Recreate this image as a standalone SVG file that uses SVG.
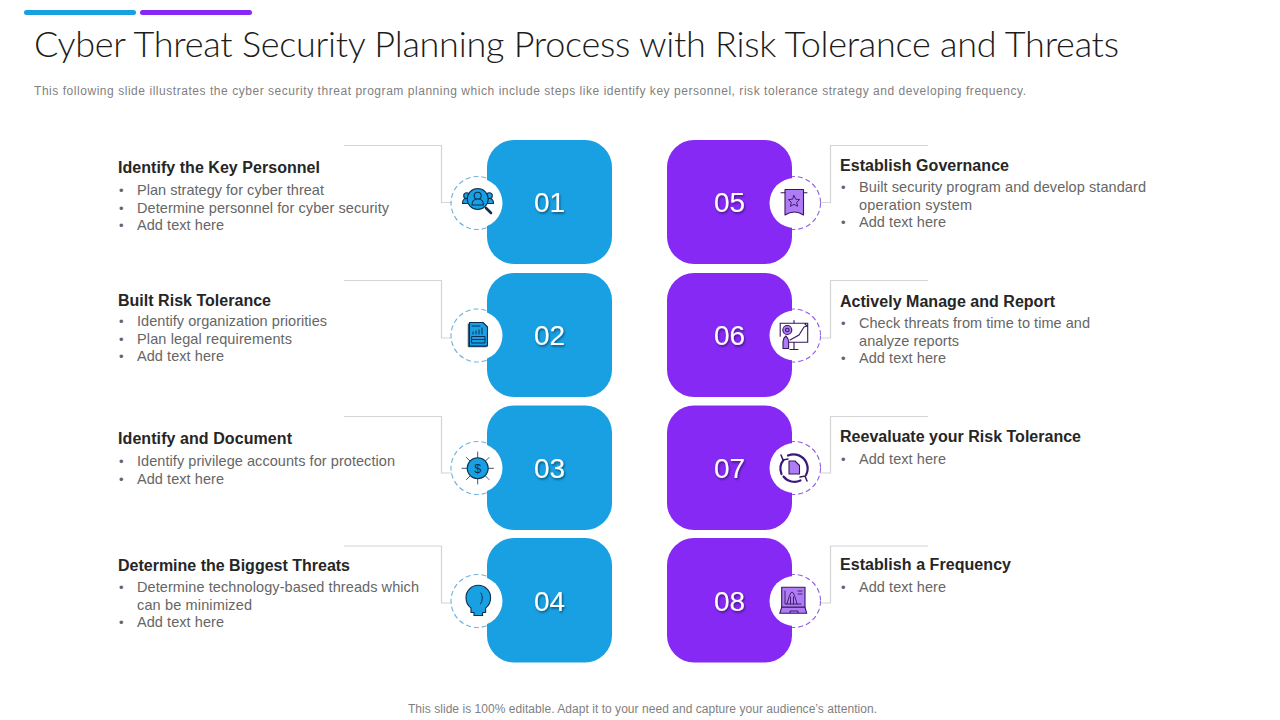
<svg xmlns="http://www.w3.org/2000/svg" width="1280" height="720" viewBox="0 0 1280 720">
<style>
text{font-family:"Liberation Sans",Arial,sans-serif}
.title{font-family:Lato,"Liberation Sans",sans-serif;font-weight:300;font-size:36px;fill:#1c1c1c}
.sub{font-size:12px;fill:#7f7f7f}
.h{font-size:16px;font-weight:700;fill:#262626}
.b{font-size:14.5px;fill:#666}
.d{font-size:13px;fill:#666}
.n{font-size:28px;fill:#fff;text-anchor:middle;filter:url(#sh)}
.blue{fill:#18a0e3}
.pur{fill:#8629f4}
.c{fill:none;stroke:#d4d4d4;stroke-width:1.2}
.w{fill:#fff}
.db{fill:none;stroke:#6db3dc;stroke-width:1.1;stroke-dasharray:5 3}
.dp{fill:none;stroke:#8f5fe2;stroke-width:1.1;stroke-dasharray:5 3}
.ib{fill:#18a0e3;stroke:#0b2f4f;stroke-width:1.1;stroke-linejoin:round}
.ibn{fill:none;stroke:#0b2f4f;stroke-width:1;stroke-linecap:round}
.ip{fill:#b07cf5;stroke:#35175f;stroke-width:1.1;stroke-linejoin:round}
.ipn{fill:none;stroke:#35175f;stroke-width:1.1;stroke-linecap:round}
</style>
<defs>
<filter id="sh" x="-30%" y="-30%" width="160%" height="160%"><feDropShadow dx="1" dy="1.5" stdDeviation="1" flood-color="#000" flood-opacity="0.5"/></filter>
</defs>
<rect width="1280" height="720" fill="#fff"/>
<rect x="24" y="10" width="112" height="5" rx="2.500" class="blue"/>
<rect x="140" y="10" width="112" height="5" rx="2.500" class="pur"/>
<text class="title" x="34" y="57" textLength="1085" lengthAdjust="spacing">Cyber Threat Security Planning Process with Risk Tolerance and Threats</text>
<text class="sub" x="34" y="94.500" textLength="992" lengthAdjust="spacing">This following slide illustrates the cyber security threat program planning which include steps like identify key personnel, risk tolerance strategy and developing frequency.</text>
<g id="connectors">
<path class="c" d="M344 145.500H441.500V202.500H452"/>
<path class="c" d="M344 280.500H441.500V338H452"/>
<path class="c" d="M344 416.500H441.500V473H452"/>
<path class="c" d="M344 546H441.500V603H452"/>
<path class="c" d="M928 145.500H830.500V202.500H820"/>
<path class="c" d="M928 280.500H830.500V338H820"/>
<path class="c" d="M928 416.500H830.500V473H820"/>
<path class="c" d="M928 546H830.500V603H820"/>
</g>
<g id="node-01">
<circle class="db" cx="477.500" cy="203" r="26.500"/>
<rect class="blue" x="487" y="140" width="125" height="124" rx="27"/>
<circle class="w" cx="477.500" cy="203" r="25"/>
<text class="n" x="549.500" y="212">01</text>
<g><circle class="ib" cx="466.700" cy="195.700" r="3"/><circle class="ib" cx="489.300" cy="195.700" r="3"/><path class="ib" d="M462.500 203.500q0-5 4-5h5v5zM493.500 203.500q0-5-4-5h-5v5z"/><circle class="ib" cx="477.700" cy="199" r="10.500"/><circle class="ib" cx="477.700" cy="195.700" r="3.500"/><path class="ib" d="M472 205q0-6 5.700-6t5.700 6z"/><path class="ibn" style="stroke-width:2.600" d="M486 208l5 5"/></g>
<text class="h" x="118" y="173" textLength="202">Identify the Key Personnel</text>
<text class="d" x="119" y="195">•</text><text class="b" x="137" y="195" textLength="187">Plan strategy for cyber threat</text>
<text class="d" x="119" y="213">•</text><text class="b" x="137" y="213" textLength="252">Determine personnel for cyber security</text>
<text class="d" x="119" y="230">•</text><text class="b" x="137" y="230" textLength="87">Add text here</text>
</g>
<g id="node-02">
<circle class="db" cx="477.500" cy="335.500" r="26.500"/>
<rect class="blue" x="487" y="273" width="125" height="124" rx="27"/>
<circle class="w" cx="477.500" cy="335.500" r="25"/>
<text class="n" x="549.500" y="345">02</text>
<g><path class="ib" d="M469.500 322.500h13.500l4.500 4.500v19h-18z"/><path class="ibn" d="M468.300 324v22.700h18M472 326h8M473 334v-2M476 334v-3M479 334v-4M482 334v-6M472 336.500h13v6.500h-13zM472 339.500h13"/></g>
<text class="h" x="118" y="306" textLength="153">Built Risk Tolerance</text>
<text class="d" x="119" y="326">•</text><text class="b" x="137" y="326" textLength="190">Identify organization priorities</text>
<text class="d" x="119" y="344">•</text><text class="b" x="137" y="344" textLength="155">Plan legal requirements</text>
<text class="d" x="119" y="361">•</text><text class="b" x="137" y="361" textLength="87">Add text here</text>
</g>
<g id="node-03">
<circle class="db" cx="477.500" cy="468" r="26.500"/>
<rect class="blue" x="487" y="405.500" width="125" height="124.500" rx="27"/>
<circle class="w" cx="477.500" cy="468" r="25"/>
<text class="n" x="549.500" y="478">03</text>
<g><path class="ibn" style="stroke-width:.8" d="M477.700 458v-6M477.700 479v5M467 468.300h-5M488.500 468.300h5M470 461l-3.500-3.500M485.500 461l3.500-3.500M470 476l-3.500 3.500M485.500 476l3.500 3.500"/><circle class="ib" cx="477.700" cy="468.300" r="10.500"/><text x="477.700" y="473" font-size="12.500" text-anchor="middle" fill="#0b2f4f">$</text></g>
<text class="h" x="118" y="444" textLength="174">Identify and Document</text>
<text class="d" x="119" y="466">•</text><text class="b" x="137" y="466" textLength="258">Identify privilege accounts for protection</text>
<text class="d" x="119" y="484">•</text><text class="b" x="137" y="484" textLength="87">Add text here</text>
</g>
<g id="node-04">
<circle class="db" cx="477.500" cy="601" r="26.500"/>
<rect class="blue" x="487" y="538" width="125" height="124.500" rx="27"/>
<circle class="w" cx="477.500" cy="601" r="25"/>
<text class="n" x="549.500" y="611">04</text>
<g><path class="ib" d="M474 615.500v-3h-3v-4.500q-5-3.500-5-10.500a12.300 12.300 0 0 1 24.600 0q0 7-5 10.500v4.500h-3v3z"/><path class="ibn" d="M481 593q3 5.500-.5 11"/></g>
<text class="h" x="118" y="571" textLength="232">Determine the Biggest Threats</text>
<text class="d" x="119" y="592">•</text><text class="b" x="137" y="592" textLength="282">Determine technology-based threads which</text>
<text class="b" x="137" y="610" textLength="115">can be minimized</text>
<text class="d" x="119" y="627">•</text><text class="b" x="137" y="627" textLength="87">Add text here</text>
</g>
<g id="node-05">
<circle class="dp" cx="794" cy="203" r="26.500"/>
<rect class="pur" x="667" y="140" width="125" height="124" rx="27"/>
<circle class="w" cx="794.500" cy="203" r="25"/>
<text class="n" x="729.500" y="212">05</text>
<g><path class="ip" d="M785 189.500h18.500v25.500q-9-6-18.500 0z"/><path class="ipn" d="M781 192.700h4M803.500 192.700h3.500"/><path class="ipn" style="stroke-width:.9" d="M794 195.500l1.700 3.700 4 .4-3 2.700.9 4-3.600-2-3.600 2 .9-4-3-2.700 4-.4z"/></g>
<text class="h" x="840" y="171" textLength="169">Establish Governance</text>
<text class="d" x="841" y="192">•</text><text class="b" x="859" y="192" textLength="287">Built security program and develop standard</text>
<text class="b" x="859" y="210" textLength="113">operation system</text>
<text class="d" x="841" y="227">•</text><text class="b" x="859" y="227" textLength="87">Add text here</text>
</g>
<g id="node-06">
<circle class="dp" cx="794" cy="335.500" r="26.500"/>
<rect class="pur" x="667" y="273" width="125" height="124" rx="27"/>
<circle class="w" cx="794.500" cy="335.500" r="25"/>
<text class="n" x="729.500" y="345">06</text>
<g><path class="ipn" d="M789 342.300h18.700v-19h-27.500v13M794 323v-2.500M794 342.500v6.500M790 349.500h8M790 340l9-5 5-8M804 327l3-1-2-2"/><circle class="ip" cx="787.300" cy="330" r="4.500"/><circle class="ip" cx="787.300" cy="330" r="1.800"/><path class="ip" d="M783 348.500v-7q0-3 2.800-5.500q2.800 2.500 2.800 5.500v7z"/></g>
<text class="h" x="840" y="307" textLength="215">Actively Manage and Report</text>
<text class="d" x="841" y="328">•</text><text class="b" x="859" y="328" textLength="231">Check threats from time to time and</text>
<text class="b" x="859" y="346" textLength="100">analyze reports</text>
<text class="d" x="841" y="363">•</text><text class="b" x="859" y="363" textLength="87">Add text here</text>
</g>
<g id="node-07">
<circle class="dp" cx="794" cy="468" r="26.500"/>
<rect class="pur" x="667" y="405.500" width="125" height="124.500" rx="27"/>
<circle class="w" cx="794.500" cy="468" r="25"/>
<text class="n" x="729.500" y="478">07</text>
<g><path class="ip" d="M789 461h6l4.500 4.500v8.500H789z"/><path class="ipn" style="stroke:#3a1a78;stroke-width:2.200" d="M781.500 474a14 14 0 0 1 2-14M788 455.500a14 14 0 0 1 18.500 7.500 14 14 0 0 1-.5 12M800.500 480.500a14 14 0 0 1-17-4"/><path class="ipn" style="stroke-width:1.500" d="M781 455l2 5 5-1M807 481l-2-5-5 1"/></g>
<text class="h" x="840" y="442" textLength="241">Reevaluate your Risk Tolerance</text>
<text class="d" x="841" y="464">•</text><text class="b" x="859" y="464" textLength="87">Add text here</text>
</g>
<g id="node-08">
<circle class="dp" cx="794" cy="601" r="26.500"/>
<rect class="pur" x="667" y="538" width="125" height="124.500" rx="27"/>
<circle class="w" cx="794.500" cy="601" r="25"/>
<text class="n" x="729.500" y="611">08</text>
<g><path class="ip" d="M781.700 587.300H805v20h-23.300z"/><path class="ip" d="M781.700 607.300H805l1.700 6h-27z"/><path class="ipn" style="stroke-width:.9" d="M785 591v13h16M787 604q3-12 5-12t5 12M790.500 604v-7M793.500 604v-7M798 591h4M798 594h4M790 613v-2h8v2"/></g>
<text class="h" x="840" y="570" textLength="171">Establish a Frequency</text>
<text class="d" x="841" y="592">•</text><text class="b" x="859" y="592" textLength="87">Add text here</text>
</g>
<text class="sub" x="408" y="713" textLength="469" lengthAdjust="spacing">This slide is 100% editable. Adapt it to your need and capture your audience’s attention.</text>
</svg>
